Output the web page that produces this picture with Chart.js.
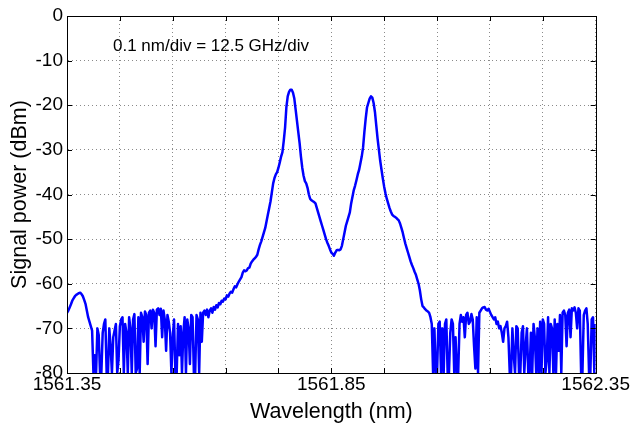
<!DOCTYPE html>
<html>
<head>
<meta charset="utf-8">
<script src="https://cdn.jsdelivr.net/npm/chart.js@4.4.1/dist/chart.umd.min.js"></script>
<style>
  html, body { margin: 0; padding: 0; background: #fff; }
  #wrap { width: 630px; height: 428px; position: relative; }
</style>
</head>
<body>
<div id="wrap"><canvas id="c" width="630" height="428"></canvas></div>
<script>
// Sampling grid of the optical spectrum analyser trace (nm)
const WL_START = 1561.35;
const WL_STEP = 0.0025;
// Signal power (dBm), one value per sample
const power = [
  -66.5,-66,-65.3,-64.6,-63.8,-63.3,-62.8,-62.5,-62.3,-62.1,
  -62,-62.3,-62.8,-63.6,-64.5,-66,-67.5,-68.5,-69.5,-70.5,
  -80,-76,-80,-70,-71.5,-80,-80,-71,-69,-68,
  -80,-80,-70,-74,-80,-72,-70.5,-69,-80,-77,
  -69.5,-68,-67.5,-80,-69,-71,-80,-67.5,-70,-80,
  -68,-66.8,-80,-79,-67.5,-80,-66.5,-67.5,-73,-66.2,
  -67,-78,-66.5,-66,-70,-65.8,-66.5,-74,-65.8,-65.5,
  -67,-65.6,-72,-66,-68,-75,-67,-68.5,-71,-80,
  -72,-68,-80,-80,-69,-76,-69.5,-80,-71,-67.5,
  -80,-68,-70,-78,-67,-67.5,-80,-80,-67,-68,
  -80,-66.5,-73,-66.5,-66,-67,-65.8,-67.5,-66,-65.5,
  -66.5,-65.2,-65.8,-64.8,-65.3,-64.3,-64.6,-63.8,-64,-63.3,
  -63.5,-62.6,-62.9,-62.2,-61.8,-62,-61.2,-60.6,-60.8,-60.1,
  -59.5,-59,-58.5,-57.5,-57,-57.2,-57,-56.5,-56.4,-55.5,
  -55,-54.6,-54.3,-54,-53.5,-52.3,-51.3,-50.5,-49.5,-48.5,
  -47.5,-46,-44.5,-43,-41.5,-39.5,-37.5,-36.3,-35.5,-35,
  -34,-32.8,-31.5,-30.5,-28,-25,-20.4,-18,-17,-16.5,
  -16.5,-17.2,-18.5,-21,-23.5,-26,-28.5,-31.5,-34,-35.8,
  -37,-37.5,-38.5,-40,-41,-41.3,-41.5,-41.7,-42,-43,
  -44,-45,-46,-47,-48,-49,-50,-50.8,-51.5,-52.3,
  -53,-53.3,-53.7,-53,-52.5,-52.4,-52.5,-52.3,-51.5,-50,
  -48.5,-47,-46,-45,-44,-42,-40.5,-39,-38,-36.8,
  -35.5,-34.5,-33,-31.5,-29.5,-26,-23,-20.5,-19.5,-18.5,
  -18,-18.3,-19.5,-21.5,-24.5,-27.5,-30,-32.5,-34.5,-36.5,
  -38.3,-39.8,-41,-42,-43,-43.8,-44.5,-44.8,-45,-45.2,
  -45.5,-45.8,-46.5,-47.5,-48.5,-49.8,-51,-52,-53,-54,
  -55,-55.8,-56.5,-57.3,-58,-59,-60,-61.5,-63.5,-65,
  -65.3,-65.7,-66,-66.2,-66.5,-67.5,-69,-80,-70,-80,
  -80,-69,-68.5,-80,-70,-80,-69,-68,-80,-80,
  -71,-68,-69,-80,-72,-80,-80,-69,-67,-68.5,
  -67.5,-72,-67,-66.5,-69,-68.5,-66.8,-68,-74,-79,
  -67.5,-80,-66.5,-66,-65.5,-65.3,-65.2,-65.8,-66,-65.6,
  -66.3,-67,-67.5,-68,-67.5,-69,-68.5,-70,-69.5,-71,
  -73,-70,-69.5,-68.5,-72,-80,-80,-70,-76,-80,
  -69.5,-70,-80,-80,-71,-69.5,-80,-74,-70,-80,
  -80,-71,-80,-69,-72,-80,-70,-80,-68.5,-80,
  -68,-69,-80,-77,-67.5,-80,-69,-70,-80,-68,
  -80,-69,-75,-67,-80,-66.5,-66,-67,-74,-66.5,
  -65.8,-72,-65.5,-66,-65.3,-66.5,-70,-65.5,-66,-80,
  -80,-67,-66,-65.5,-69,-80,-80,-68,-67.5,-80,
  -69
];
// Axis tick labels
const xTickLabels = ["1561.35", "1561.85", "1562.35"];
const yTicks = [0, -10, -20, -30, -40, -50, -60, -70, -80];
const annotationText = "0.1 nm/div = 12.5 GHz/div";

const points = power.map((p, i) => ({ x: +(WL_START + i * WL_STEP).toFixed(4), y: p }));

const FONT = "'Liberation Sans', Arial, sans-serif";

const frame = {
  id: 'frame',
  afterDraw(chart) {
    const { ctx, chartArea: a, scales } = chart;
    ctx.save();
    ctx.strokeStyle = '#000';
    ctx.lineWidth = 1;
    ctx.beginPath();
    scales.x.ticks.forEach(t => {
      const px = Math.round(scales.x.getPixelForValue(t.value)) + 0.5;
      ctx.moveTo(px, a.bottom); ctx.lineTo(px, a.bottom - 5);
      ctx.moveTo(px, a.top); ctx.lineTo(px, a.top + 5);
    });
    scales.y.ticks.forEach(t => {
      const py = Math.round(scales.y.getPixelForValue(t.value)) + 0.5;
      ctx.moveTo(a.left, py); ctx.lineTo(a.left + 5, py);
      ctx.moveTo(a.right, py); ctx.lineTo(a.right - 5, py);
    });
    ctx.stroke();
    ctx.strokeRect(Math.round(a.left) + 0.5, Math.round(a.top) + 0.5,
                   Math.round(a.right - a.left), Math.round(a.bottom - a.top));
    ctx.fillStyle = '#000';
    ctx.font = '17px ' + FONT;
    ctx.textBaseline = 'middle';
    ctx.textAlign = 'left';
    ctx.fillText(annotationText, 113, 46);
    ctx.restore();
  }
};

new Chart(document.getElementById('c'), {
  type: 'line',
  data: {
    datasets: [{
      data: points,
      borderColor: '#0000ff',
      borderWidth: 2.5,
      borderJoinStyle: 'round',
      pointRadius: 0,
      tension: 0,
      fill: false
    }]
  },
  options: {
    responsive: false,
    animation: false,
    devicePixelRatio: 1,
    layout: { padding: { top: 16, right: 34, left: 0, bottom: 0 } },
    plugins: { legend: { display: false }, tooltip: { enabled: false } },
    scales: {
      x: {
        type: 'linear',
        min: 1561.35,
        max: 1562.35,
        afterBuildTicks(scale) {
          const t = [];
          for (let i = 0; i <= 10; i++) t.push({ value: +(1561.35 + i * 0.1).toFixed(2) });
          scale.ticks = t;
        },
        afterFit(scale) { scale.height = 55; },
        ticks: {
          autoSkip: false,
          maxRotation: 0,
          padding: 0,
          color: '#000',
          font: { family: FONT, size: 19 },
          callback(v, i) {
            if (i === 0) return xTickLabels[0];
            if (i === 5) return xTickLabels[1];
            if (i === 10) return xTickLabels[2];
            return '';
          }
        },
        grid: { color: '#8a8a8a', lineWidth: 1, drawTicks: false, tickLength: 0 },
        border: { display: true, color: '#000', width: 1, dash: [1, 3] },
        title: {
          display: true,
          text: 'Wavelength (nm)',
          color: '#000',
          font: { family: FONT, size: 21.5 },
          padding: { top: 0, bottom: 3 }
        }
      },
      y: {
        min: -80,
        max: 0,
        afterBuildTicks(scale) { scale.ticks = yTicks.map(v => ({ value: v })); },
        afterFit(scale) { scale.width = 67; },
        ticks: {
          padding: 4,
          color: '#000',
          font: { family: FONT, size: 19 }
        },
        grid: { color: '#8a8a8a', lineWidth: 1, drawTicks: false, tickLength: 0 },
        border: { display: true, color: '#000', width: 1, dash: [1, 3] },
        title: {
          display: true,
          text: 'Signal power (dBm)',
          color: '#000',
          font: { family: FONT, size: 21.5 },
          padding: { top: 7, bottom: 0 }
        }
      }
    }
  },
  plugins: [frame]
});
</script>
</body>
</html>
